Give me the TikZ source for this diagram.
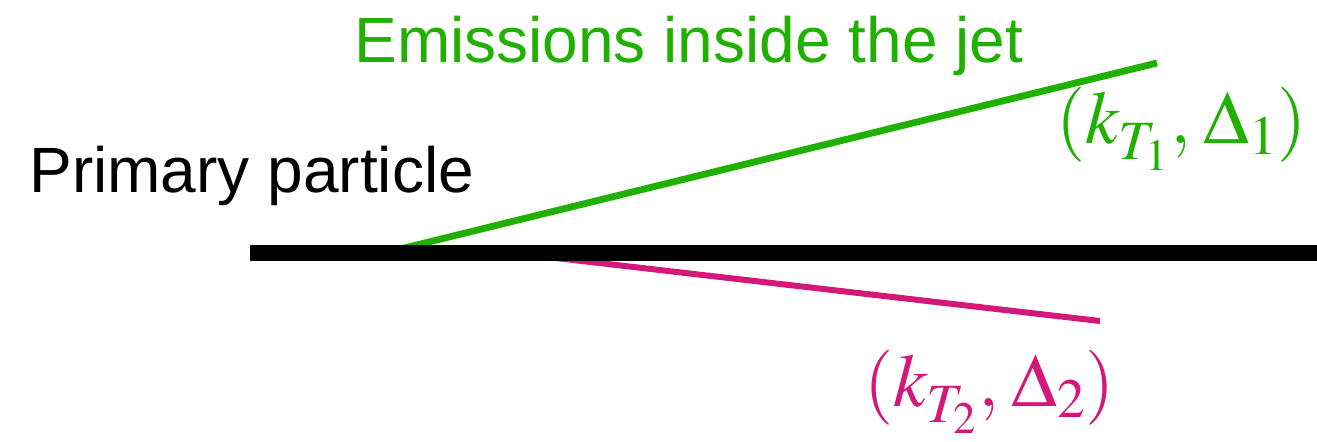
\documentclass[tikz,border=0pt]{standalone}
\usepackage{mathptmx}
\usepackage[no-math]{fontspec}
\newfontfamily\labelsans{Liberation Sans}
\definecolor{emitgreen}{RGB}{31,176,0}
\definecolor{emitmagenta}{RGB}{212,24,122}
\newcommand{\lowsub}[1]{\raisebox{-2.5pt}{$\scriptstyle #1$}}
\tikzset{
  primary/.style={line width=8pt, black},
  emission/.style={line width=3.4pt},
  caption/.style={inner sep=0pt, anchor=base west, font=\labelsans\fontsize{32}{36}\selectfont},
  kinlabel/.style={inner sep=0pt, anchor=base west, font=\fontsize{37.5}{40}\selectfont},
}
\begin{document}
\begin{tikzpicture}[x=0.5pt, y=-0.5pt]
  \useasboundingbox (0,0) rectangle (1317,441);

  % end points of the three tracks
  \coordinate (pstart) at (250,253);
  \coordinate (pend)   at (1317,253);
  \coordinate (e1start) at (392,251);
  \coordinate (e1end)   at (1157,63);
  \coordinate (e2start) at (530,255);
  \coordinate (e2end)   at (1100,321);

  % emitted particles, drawn below the primary track
  \draw[emission, emitgreen] (e1start) -- (e1end);
  \draw[emission, emitmagenta, line width=3pt] (e2start) -- (e2end);

  % primary particle track
  \draw[primary] (pstart) -- (pend);

  % captions
  \node[caption] (ptext) at (29,192) {Primary particle};
  \node[caption, text=emitgreen] (etext) at (354,62) {Emissions inside the jet};

  % kinematic labels of the emissions
  \node[kinlabel, text=emitgreen] (lab1) at (1056,143)
    {$(k_{\lowsub{T_1}},\mkern1mu \Delta_1)$};
  \node[kinlabel, text=emitmagenta] (lab2) at (864,406)
    {$(k_{\lowsub{T_2}},\mkern1mu \Delta_2)$};
\end{tikzpicture}
\end{document}
